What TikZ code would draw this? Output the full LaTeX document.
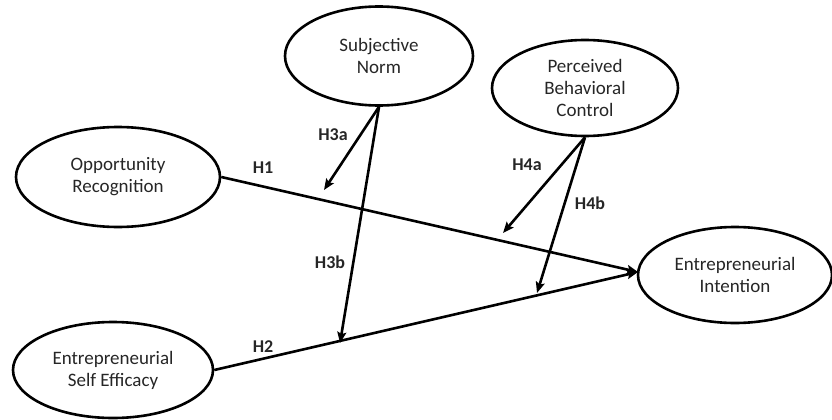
\documentclass[tikz,border=0pt]{standalone}
\usepackage{fontspec}
\setmainfont{Carlito}
\usetikzlibrary{shapes.geometric,arrows.meta}
\begin{document}
\begin{tikzpicture}[x=1pt,y=-1pt,
  construct/.style={draw=black,line width=2.6pt,ellipse,inner sep=0pt,align=center,
    font=\fontsize{19}{22}\selectfont,text=black!85},
  path/.style={line width=2.6pt,-{Stealth[length=11pt,width=9pt,inset=2pt]}},
  hlab/.style={font=\fontsize{18}{20}\selectfont\bfseries,text=black!85}]
\useasboundingbox (0,0) rectangle (832,420);
\node[construct,minimum width=188pt,minimum height=99pt] (sn) at (379,56) {Subjective\\Norm};
\node[construct,minimum width=186pt,minimum height=96pt] (pbc) at (585,88) {Perceived\\Behavioral\\Control};
\node[construct,minimum width=204pt,minimum height=100pt] (or) at (118,177) {Opportunity\\Recognition};
\node[construct,minimum width=200pt,minimum height=96pt] (ese) at (113,370) {Entrepreneurial\\Self Efficacy};
\node[construct,minimum width=194pt,minimum height=96pt] (ei) at (735,275) {Entrepreneurial\\Intention};
\coordinate (eiin) at (638,272);
\coordinate (h3aend) at (324,190);
\coordinate (h3bend) at (340,343);
\coordinate (h4aend) at (503,233);
\coordinate (h4bend) at (537,293);
\draw[path] (or.east) -- (eiin);
\draw[path] (ese.east) -- (eiin);
\draw[path] (sn.south) -- (h3aend);
\draw[path] (sn.south) -- (h3bend);
\draw[path] (pbc.south) -- (h4aend);
\draw[path] (pbc.south) -- (h4bend);
\node[hlab] (l1) at (263,168) {H1};
\node[hlab] (l2) at (263,347) {H2};
\node[hlab] (l3a) at (333,135) {H3a};
\node[hlab] (l3b) at (330,262) {H3b};
\node[hlab] (l4a) at (527,165) {H4a};
\node[hlab] (l4b) at (590,203) {H4b};
\end{tikzpicture}
\end{document}
